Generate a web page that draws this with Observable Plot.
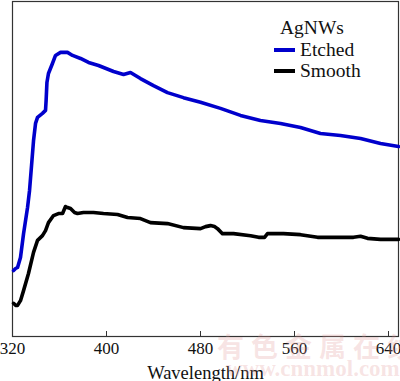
<!DOCTYPE html>
<html>
<head>
<meta charset="utf-8">
<script src="https://cdn.jsdelivr.net/npm/d3@7"></script>
<script src="https://cdn.jsdelivr.net/npm/@observablehq/plot@0.6"></script>
<style>
  html, body { margin: 0; padding: 0; background: #fff; }
  #wrap { position: relative; width: 400px; height: 381px; overflow: hidden; font-family: "Liberation Serif", "Times New Roman", serif; }
  #legend { position: absolute; left: 274px; top: 17px; font-size: 19.5px; color: #111; line-height: 21px; }
  #legend .title { padding-left: 6px; margin-bottom: 1px; }
  #legend .row { display: flex; align-items: center; }
  #legend .sw { width: 21px; height: 4px; margin-right: 5px; }
  .wm { position: absolute; color: rgba(225, 150, 150, 0.26); white-space: nowrap; pointer-events: none; }
</style>
</head>
<body>
<div id="wrap">
  <div id="chart"></div>
  <div id="legend"></div>
  <div class="wm" style="left:217px; top:326px; font-size:27px; font-weight:bold; letter-spacing:7px; font-family:'Noto Sans CJK SC', sans-serif;">有色金属在线</div>
  <div class="wm" style="left:226px; top:356px; font-size:23px; font-weight:bold; font-family:'Liberation Serif', serif;">www.cnnmol.com</div>
</div>
<script>
// Wavelength (nm) and intensity (a.u.)
const etchedX = [320.9, 322.6, 324.3, 326.8, 329.4, 332.8, 334.5, 336.2, 337.9, 339.6, 341.3, 345.5, 348.1, 348.6, 349.3, 350.6, 354.0, 356.6, 360.9, 366.8, 371.1, 377.9, 384.7, 393.2, 406.0, 414.5, 420.4, 428.9, 440.0, 451.9, 465.5, 480.0, 497.0, 514.0, 531.0, 548.1, 565.1, 582.1, 599.1, 616.2, 633.2, 648.5];
const etchedY = [0.197, 0.203, 0.206, 0.236, 0.307, 0.385, 0.436, 0.510, 0.585, 0.636, 0.654, 0.666, 0.675, 0.704, 0.758, 0.785, 0.815, 0.839, 0.848, 0.848, 0.839, 0.830, 0.818, 0.809, 0.791, 0.782, 0.788, 0.770, 0.749, 0.728, 0.713, 0.699, 0.681, 0.660, 0.645, 0.636, 0.624, 0.606, 0.600, 0.591, 0.576, 0.567];
const smoothX = [320.9, 322.6, 324.3, 326.8, 329.4, 333.6, 337.9, 341.3, 345.5, 348.1, 350.6, 354.9, 359.1, 362.6, 365.1, 366.8, 369.4, 372.8, 375.3, 380.4, 388.9, 397.4, 409.4, 417.9, 428.9, 437.4, 451.9, 465.5, 480.0, 484.3, 488.5, 491.9, 494.5, 498.7, 508.1, 522.6, 529.4, 534.5, 537.0, 541.3, 550.6, 565.1, 579.6, 593.2, 610.2, 616.2, 622.1, 633.2, 648.5];
const smoothY = [0.099, 0.093, 0.093, 0.107, 0.137, 0.188, 0.251, 0.287, 0.301, 0.316, 0.340, 0.361, 0.367, 0.367, 0.388, 0.385, 0.382, 0.370, 0.367, 0.370, 0.370, 0.367, 0.364, 0.355, 0.352, 0.340, 0.337, 0.325, 0.322, 0.328, 0.331, 0.328, 0.322, 0.307, 0.307, 0.301, 0.296, 0.296, 0.307, 0.307, 0.307, 0.304, 0.296, 0.296, 0.296, 0.299, 0.293, 0.290, 0.290];
const xTicks = [320, 400, 480, 560, 640];
const seriesNames = ["Etched", "Smooth"];
const seriesColors = ["#0000cc", "#000000"];
const legendTitle = "AgNWs";
const xLabel = "Wavelength/nm";

const etched = etchedX.map((x, i) => ({x, y: etchedY[i]}));
const smooth = smoothX.map((x, i) => ({x, y: smoothY[i]}));

const serif = "Liberation Serif";
const chart = Plot.plot({
  width: 400,
  height: 381,
  marginLeft: 12,
  marginRight: 2,
  marginTop: 1,
  marginBottom: 45,
  style: {fontFamily: "'Liberation Serif', serif", fontSize: "17px", color: "#111", background: "#fff"},
  x: {domain: [320, 648.5]},
  y: {domain: [0, 1]},
  marks: [
    Plot.frame({stroke: "#333", strokeWidth: 1.2}),
    Plot.axisY({ticks: [], label: null}),
    Plot.axisX({ticks: xTicks, tickSize: -5, tickPadding: 10, tickFormat: d => String(d), fontSize: 17, fontFamily: serif, fontVariant: "normal", label: null, stroke: "#333"}),
    Plot.axisX({ticks: [], tickSize: 0, label: xLabel, labelAnchor: "center", labelOffset: 42, labelArrow: "none", fontSize: 18.5, fontFamily: serif}),
    Plot.line(etched, {x: "x", y: "y", stroke: seriesColors[0], strokeWidth: 3.6, strokeLinejoin: "round"}),
    Plot.line(smooth, {x: "x", y: "y", stroke: seriesColors[1], strokeWidth: 3.6, strokeLinejoin: "round"})
  ]
});
document.getElementById("chart").appendChild(chart);

const legend = document.getElementById("legend");
const t = document.createElement("div");
t.className = "title";
t.textContent = legendTitle;
legend.appendChild(t);
seriesNames.forEach((name, i) => {
  const row = document.createElement("div");
  row.className = "row";
  const sw = document.createElement("span");
  sw.className = "sw";
  sw.style.background = seriesColors[i];
  const lab = document.createElement("span");
  lab.textContent = name;
  row.appendChild(sw);
  row.appendChild(lab);
  legend.appendChild(row);
});
</script>
</body>
</html>
